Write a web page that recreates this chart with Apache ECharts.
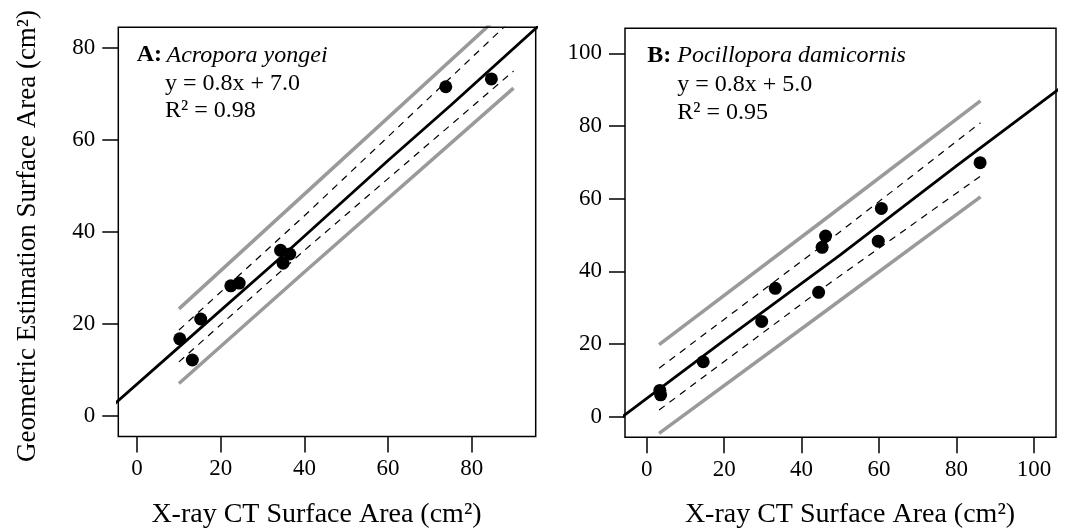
<!DOCTYPE html>
<html>
<head>
<meta charset="utf-8">
<script src="https://cdn.jsdelivr.net/npm/echarts@6/dist/echarts.min.js"></script>
<style>
  html, body { margin: 0; padding: 0; background: #fff; }
  #main { width: 1065px; height: 531px; }
</style>
</head>
<body>
<div id="main"></div>
<script>
// tick labels
var ticksA = [0, 20, 40, 60, 80];
var ticksB = [0, 20, 40, 60, 80, 100];

// panel A: Acropora yongei
var ctA  = [10.2, 13.2, 15.2, 22.4, 24.4, 34.3, 34.9, 36.5, 73.8, 84.7];
var geoA = [16.8, 12.2, 21.1, 28.3, 28.9, 36.0, 33.2, 35.2, 71.5, 73.2];
var fitXA = [-10, 10, 35, 60, 75, 100];
var fitYA = [-1.0, 15.0, 35.0, 55.5, 67.5, 88.0];
var bandXA = [10, 40, 90];
var ciUpA = [18.7, 43.5, 86.4];
var ciLoA = [11.8, 36.0, 74.9];
var piUpA = [23.3, 48.2, 89.7];
var piLoA = [7.1, 31.3, 71.2];

// panel B: Pocillopora damicornis
var ctB  = [3.4, 3.6, 14.6, 29.7, 33.2, 44.4, 45.3, 46.2, 59.8, 60.6, 86.1];
var geoB = [7.2, 6.0, 15.1, 26.2, 35.3, 34.2, 46.6, 49.7, 48.3, 57.3, 69.9];
var fitXB = [-10, 20, 50, 80, 110];
var fitYB = [-3.0, 21.0, 44.5, 69.0, 93.0];
var bandXB = [3.2, 45, 86.2];
var ciUpB = [13.3, 46.8, 80.9];
var ciLoB = [1.8, 35.0, 66.2];
var piUpB = [19.8, 53.5, 86.9];
var piLoB = [-4.6, 28.1, 60.5];

var serif = '"Liberation Serif", "Times New Roman", serif';

function pairs(xs, ys) {
  return xs.map(function (x, i) { return [x, ys[i]]; });
}

function lineSeries(idx, xs, ys, color, width, type, z) {
  return {
    type: 'line', xAxisIndex: idx, yAxisIndex: idx,
    data: pairs(xs, ys), symbol: 'none', clip: true, silent: true,
    lineStyle: { color: color, width: width, type: type },
    z: z
  };
}

function scatterSeries(idx, xs, ys) {
  return {
    type: 'scatter', xAxisIndex: idx, yAxisIndex: idx,
    data: pairs(xs, ys), symbol: 'circle', symbolSize: 13,
    itemStyle: { color: '#000', opacity: 1 }, z: 10
  };
}

function valueAxis(grid, min, max, ticks) {
  return {
    type: 'value', gridIndex: grid, min: min, max: max,
    splitLine: { show: false },
    axisLine: { show: false, onZero: false },
    axisTick: { show: true, customValues: ticks, length: 16, lineStyle: { color: '#000', width: 1.5 } },
    axisLabel: { customValues: ticks, color: '#000', fontFamily: serif, fontSize: 23 }
  };
}

var myChart = echarts.init(document.getElementById('main'));

var xA = valueAxis(0, -4.5, 95.3, ticksA); xA.axisLabel.margin = 21;
var xB = valueAxis(1, -5.6, 105.7, ticksB); xB.axisLabel.margin = 21;
var yA = valueAxis(0, -4.4, 84.4, ticksA); yA.axisLabel.margin = 23;
var yB = valueAxis(1, -5.7, 106.9, ticksB); yB.axisLabel.margin = 23;

var option = {
  animation: false,
  backgroundColor: '#fff',
  grid: [
    { left: 118.3, top: 27.3, width: 417.4, height: 409.2, show: true, borderColor: '#000', borderWidth: 1.5, backgroundColor: 'transparent', z: 20 },
    { left: 625, top: 28.3, width: 431, height: 409, show: true, borderColor: '#000', borderWidth: 1.5, backgroundColor: 'transparent', z: 20 }
  ],
  xAxis: [xA, xB],
  yAxis: [yA, yB],
  series: [
    lineSeries(0, bandXA, piUpA, '#9a9a9a', 3.5, 'solid', 2),
    lineSeries(0, bandXA, piLoA, '#9a9a9a', 3.5, 'solid', 2),
    lineSeries(0, bandXA, ciUpA, '#000', 1.2, [7, 6], 3),
    lineSeries(0, bandXA, ciLoA, '#000', 1.2, [7, 6], 3),
    lineSeries(0, fitXA, fitYA, '#000', 2.8, 'solid', 4),
    scatterSeries(0, ctA, geoA),

    lineSeries(1, bandXB, piUpB, '#9a9a9a', 3.5, 'solid', 2),
    lineSeries(1, bandXB, piLoB, '#9a9a9a', 3.5, 'solid', 2),
    lineSeries(1, bandXB, ciUpB, '#000', 1.2, [7, 6], 3),
    lineSeries(1, bandXB, ciLoB, '#000', 1.2, [7, 6], 3),
    lineSeries(1, fitXB, fitYB, '#000', 2.8, 'solid', 4),
    scatterSeries(1, ctB, geoB)
  ],
  graphic: [
    // axis titles
    { type: 'text', x: 28, y: 236, rotation: Math.PI / 2,
      style: { text: 'Geometric Estimation Surface Area (cm²)', font: '27px ' + serif, fill: '#000', textAlign: 'center', textVerticalAlign: 'middle' } },
    { type: 'text', x: 316.5, y: 515,
      style: { text: 'X-ray CT Surface Area (cm²)', font: '28px ' + serif, fill: '#000', textAlign: 'center', textVerticalAlign: 'middle' } },
    { type: 'text', x: 850, y: 515,
      style: { text: 'X-ray CT Surface Area (cm²)', font: '28px ' + serif, fill: '#000', textAlign: 'center', textVerticalAlign: 'middle' } },

    // panel A notes
    { type: 'text', x: 136.7, y: 55.2, style: { text: 'A:', font: 'bold 24px ' + serif, fill: '#000', textVerticalAlign: 'middle' } },
    { type: 'text', x: 166.5, y: 55.2, style: { text: 'Acropora yongei', font: 'italic 24px ' + serif, fill: '#000', textVerticalAlign: 'middle' } },
    { type: 'text', x: 165, y: 83.5, style: { text: 'y = 0.8x + 7.0', font: '24px ' + serif, fill: '#000', textVerticalAlign: 'middle' } },
    { type: 'text', x: 165, y: 111, style: { text: 'R² = 0.98', font: '24px ' + serif, fill: '#000', textVerticalAlign: 'middle' } },

    // panel B notes
    { type: 'text', x: 647.3, y: 55.5, style: { text: 'B:', font: 'bold 24px ' + serif, fill: '#000', textVerticalAlign: 'middle' } },
    { type: 'text', x: 677.3, y: 55.5, style: { text: 'Pocillopora damicornis', font: 'italic 24px ' + serif, fill: '#000', textVerticalAlign: 'middle' } },
    { type: 'text', x: 677.3, y: 84.5, style: { text: 'y = 0.8x + 5.0', font: '24px ' + serif, fill: '#000', textVerticalAlign: 'middle' } },
    { type: 'text', x: 677.3, y: 113, style: { text: 'R² = 0.95', font: '24px ' + serif, fill: '#000', textVerticalAlign: 'middle' } }
  ]
};

myChart.setOption(option);
</script>
</body>
</html>
